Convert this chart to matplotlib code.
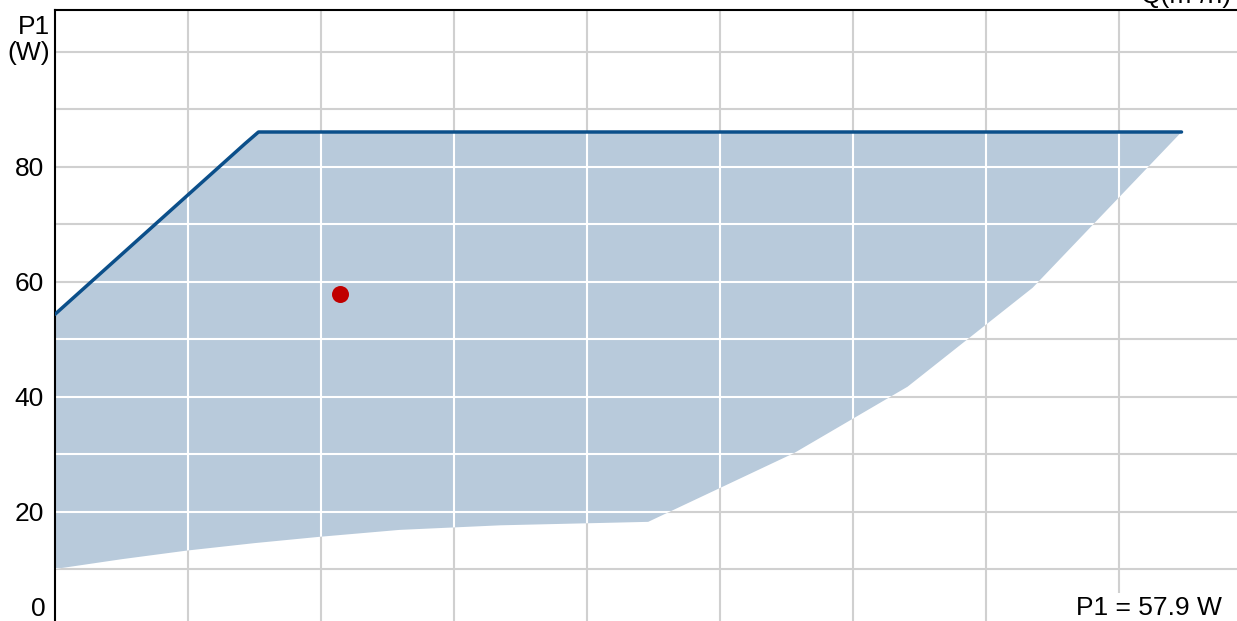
import numpy as np
import matplotlib
matplotlib.use("Agg")
import matplotlib.pyplot as plt
from matplotlib.patches import Polygon

plt.rcParams["font.family"] = ["Liberation Sans", "DejaVu Sans"]

# operating envelope (x in grid units of flow, y = P1 in W)
upper_x = [0.0, 1.43, 1.53, 8.47]
upper_y = [54.3, 84.0, 86.0, 86.0]
lower_x = [0.0, 0.5, 0.99, 1.5, 1.99, 2.59, 3.35, 4.46, 5.56, 6.41, 7.35, 8.47]
lower_y = [10.0, 11.7, 13.2, 14.5, 15.6, 16.8, 17.6, 18.2, 30.2, 41.7, 58.9, 86.0]

point_x = 2.14
point_y = 57.9

x_grid = [1, 2, 3, 4, 5, 6, 7, 8]
y_grid = [10, 20, 30, 40, 50, 60, 70, 80, 90, 100]
y_labels = [20, 40, 60, 80]

FILL = "#b8cadb"
LINE = "#0b4f8a"
GRID = "#d0d0d0"

W, H = 1237, 621
fig = plt.figure(figsize=(W / 100, H / 100), dpi=100)
ax = fig.add_axes([55 / W, 0, 1 - 55 / W, 611 / H])
y_px = 5.75   # pixels per W
ax.set_xlim(0, (W - 55) / 133)
ax.set_ylim((626.5 - 621) / y_px, (626.5 - 10) / y_px)

for s in ("right", "bottom"):
    ax.spines[s].set_visible(False)
ax.spines["top"].set_linewidth(1.5)
ax.spines["left"].set_linewidth(1.5)

# grey grid underneath
for gx in x_grid:
    ax.axvline(gx, color=GRID, lw=1.5, zorder=0)
for gy in y_grid:
    ax.axhline(gy, color=GRID, lw=1.5, zorder=0)

poly_xy = list(zip(upper_x, upper_y)) + list(zip(lower_x[::-1], lower_y[::-1]))
poly = Polygon(poly_xy, closed=True, facecolor=FILL, edgecolor="none", zorder=1)
ax.add_patch(poly)

# white grid on top of the fill, clipped to it
for gx in x_grid:
    l = ax.axvline(gx, color="white", lw=1.5, zorder=2)
    l.set_clip_path(poly)
for gy in y_grid:
    l = ax.axhline(gy, color="white", lw=1.5, zorder=2)
    l.set_clip_path(poly)

ax.plot(upper_x, upper_y, color=LINE, lw=2.5, zorder=3, solid_capstyle="round")
ax.scatter([point_x], [point_y], s=150, color="#c00000", zorder=4, linewidths=0)

ax.set_xticks([])
ax.set_yticks(y_labels)
ax.set_yticklabels([str(v) for v in y_labels], fontsize=19)
ax.tick_params(axis="y", length=0, pad=8)

fig.text(46 / W, 1 - 609 / H, "0", ha="right", va="center", fontsize=19)
fig.text(50 / W, 1 - 40 / H, "P1\n(W)", ha="right", va="center", fontsize=19,
         linespacing=1.15)
fig.text(1222 / W, 1 - 608 / H, "P1 = 57.9 W", ha="right", va="center", fontsize=19,
         bbox=dict(facecolor="white", edgecolor="none", pad=2))
fig.text(1232 / W, 1 - 3 / H, "Q(m³/h)", ha="right", va="baseline", fontsize=19)

fig.savefig("out.png", dpi=100)
